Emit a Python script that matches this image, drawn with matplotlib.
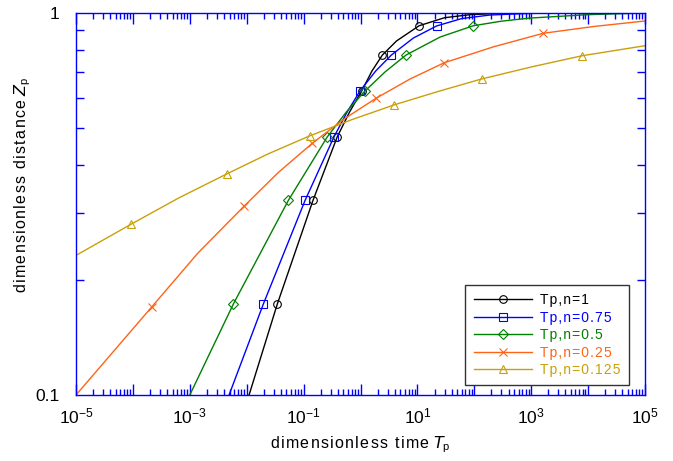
import matplotlib
matplotlib.use("Agg")
import matplotlib.pyplot as plt
from matplotlib.ticker import NullFormatter, FixedLocator, LogLocator

plt.rcParams['font.family'] = ['Liberation Sans', 'DejaVu Sans']
plt.rcParams['mathtext.default'] = 'regular'

# values (log-log)
t_n1 = [0.011, 0.0345, 0.146, 0.39, 0.64, 1.05, 1.59, 2.42, 4.3, 10.7, 30, 84, 300, 1e5]
z_n1 = [0.1, 0.173, 0.323, 0.474, 0.55, 0.625, 0.705, 0.776, 0.845, 0.926, 0.972, 0.99, 0.998, 1.0]
mk_n1 = [1, 2, 3, 5, 7, 9]

t_n075 = [0.0049, 0.0196, 0.106, 0.342, 0.58, 0.98, 1.85, 3.48, 8.5, 21.8, 60, 190, 1000, 1e5]
z_n075 = [0.1, 0.173, 0.323, 0.474, 0.55, 0.625, 0.705, 0.776, 0.86, 0.925, 0.967, 0.988, 0.998, 1.0]
mk_n075 = [1, 2, 3, 5, 7, 9]

t_n05 = [0.001, 0.00582, 0.0538, 0.261, 0.56, 1.2, 2.7, 6.3, 25, 96, 300, 955, 1e4, 1e5]
z_n05 = [0.1, 0.173, 0.323, 0.474, 0.55, 0.625, 0.701, 0.776, 0.865, 0.926, 0.952, 0.97, 0.99, 1.0]
mk_n05 = [1, 2, 3, 5, 7, 9]

t_n025 = [1e-5, 2.14e-4, 1.38e-3, 8.97e-3, 0.0357, 0.142, 0.516, 1.87, 7.46, 29.7, 220, 1633, 12600, 1e5]
z_n025 = [0.1, 0.170, 0.235, 0.312, 0.382, 0.456, 0.528, 0.598, 0.672, 0.741, 0.816, 0.885, 0.922, 0.953]
mk_n025 = [1, 3, 5, 7, 9, 11]

t_n0125 = [1e-5, 9.3e-5, 6.4e-4, 4.45e-3, 0.024, 0.129, 0.71, 3.93, 23, 135, 1030, 7900, 1e5]
z_n0125 = [0.232, 0.280, 0.328, 0.379, 0.428, 0.477, 0.526, 0.575, 0.623, 0.672, 0.723, 0.773, 0.821]
mk_n0125 = [1, 3, 5, 7, 9, 11]

labels = ['Tp,n=1', 'Tp,n=0.75', 'Tp,n=0.5', 'Tp,n=0.25', 'Tp,n=0.125']
colors = ['black', '#0000ff', '#008000', '#ff6316', '#c9a00a']
markers = ['o', 's', 'D', 'x', '^']
x_ticklabels = ['$10^{-5}$', '$10^{-3}$', '$10^{-1}$', '$10^{1}$', '$10^{3}$', '$10^{5}$']

series = [(t_n1, z_n1, mk_n1), (t_n075, z_n075, mk_n075), (t_n05, z_n05, mk_n05),
          (t_n025, z_n025, mk_n025), (t_n0125, z_n0125, mk_n0125)]


def spaced(s):
    # the original renders its text with wide letter spacing
    return '\u200a'.join(s)


fig = plt.figure(figsize=(6.73, 4.61), dpi=100)
ax = fig.add_axes([76 / 673, 66 / 461, 569 / 673, 382 / 461])

for (t, z, mk), lab, c, m in zip(series, labels, colors, markers):
    ms = 5 if m == 'D' else 5.5
    ax.plot(t, z, color=c, lw=1.0, marker=m, markevery=mk, ms=ms,
            mfc='none', mec=c, mew=0.8, label=spaced(lab))

ax.set_xscale('log')
ax.set_yscale('log')
ax.set_xlim(1e-5, 1e5)
ax.set_ylim(0.1, 1)

ax.set_xticks([10.0 ** k for k in range(-5, 6)])
ax.set_xticklabels([x_ticklabels[(k + 5) // 2] if (k + 5) % 2 == 0 else '' for k in range(-5, 6)])
ax.xaxis.set_minor_locator(LogLocator(base=10, subs=range(2, 10), numticks=100))
ax.xaxis.set_minor_formatter(NullFormatter())

ax.yaxis.set_major_locator(FixedLocator([0.1, 1]))
ax.set_yticklabels(['0.1', '1'])
ax.yaxis.set_minor_locator(FixedLocator([0.2, 0.3, 0.4, 0.5, 0.6, 0.7, 0.8, 0.9]))
ax.yaxis.set_minor_formatter(NullFormatter())

for s in ax.spines.values():
    s.set_color('#0000ff')
    s.set_linewidth(1.0)
ax.tick_params(which='both', direction='in', top=True, right=True, colors='#0000ff',
               labelcolor='black', labelsize=12.5)
ax.tick_params(axis='x', which='major', length=8, width=1, pad=8)
ax.tick_params(axis='x', which='minor', length=4, width=1)
ax.tick_params(axis='y', which='major', length=0, pad=12)
ax.tick_params(axis='y', which='minor', length=6, width=1)

ax.set_xlabel(spaced('dimensionless time') + ' $\\mathit{T}_{p}$', fontsize=11.5, labelpad=6)
ax.set_ylabel(spaced('dimensionless distance') + ' $\\mathit{Z}_{p}$', fontsize=11.5)
ax.yaxis.set_label_coords(-0.076, 0.55)

leg = ax.legend(loc='lower right', bbox_to_anchor=(0.972, 0.025), fontsize=10,
                fancybox=False, framealpha=1, edgecolor='#333333', handlelength=4.2,
                borderpad=0.6, labelspacing=0.25, handletextpad=0.6, borderaxespad=0)
leg.get_frame().set_linewidth(1.0)
for txt, c in zip(leg.get_texts(), colors):
    txt.set_color(c)

fig.savefig('out.png', dpi=100)
